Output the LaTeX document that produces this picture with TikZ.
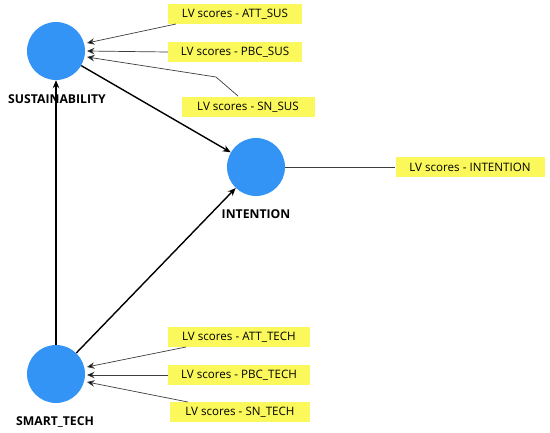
\documentclass[tikz,border=0pt]{standalone}
\usepackage{fontspec}
\setmainfont{Open Sans}
\usetikzlibrary{arrows.meta}
\definecolor{lvblue}{RGB}{52,148,246}
\definecolor{lvyellow}{RGB}{250,248,90}
\definecolor{lvgrey}{RGB}{60,60,60}
\begin{document}
\begin{tikzpicture}[x=1pt,y=-1pt,
  lv/.style={circle,fill=lvblue,minimum size=58pt,inner sep=0pt},
  ind/.style={fill=lvyellow,minimum height=20pt,inner sep=0pt,font=\fontsize{11.6}{14}\selectfont},
  lab/.style={font=\fontsize{12.2}{14}\selectfont\bfseries},
  path/.style={-{Stealth[length=8pt,width=6.5pt]},line width=1.4pt,black},
  load/.style={-{Stealth[length=7.5pt,width=6.5pt,fill=black]},line width=0.7pt,lvgrey},
  plain/.style={line width=0.9pt,lvgrey}]
\useasboundingbox (0,0) rectangle (550,432);
\node[lv] (sus) at (56,51) {};
\node[lv] (int) at (256,167) {};
\node[lv] (tech) at (56,374) {};
\node[lab] (suslab) at (57,99) {SUSTAINABILITY};
\node[lab] (intlab) at (256,214) {INTENTION};
\node[lab] (techlab) at (55,422) {SMART\_TECH};
\node[ind,minimum width=134pt] (a1) at (235,14) {LV scores - ATT\_SUS};
\node[ind,minimum width=134pt] (a2) at (235,52) {LV scores - PBC\_SUS};
\node[ind,minimum width=133pt] (a3) at (248,107) {LV scores - SN\_SUS};
\node[ind,minimum width=149pt] (ai) at (470,167) {LV scores - INTENTION};
\node[ind,minimum width=142pt] (t1) at (239,337) {LV scores - ATT\_TECH};
\node[ind,minimum width=142pt] (t2) at (239,375) {LV scores - PBC\_TECH};
\node[ind,minimum width=140pt] (t3) at (240,412) {LV scores - SN\_TECH};
\coordinate (a1s) at (176,24);
\coordinate (a3s) at (238,96);
\coordinate (a3k) at (216,77);
\coordinate (t1s) at (186,347);
\coordinate (t3s) at (188,402);
\coordinate (s1) at (87,43);
\coordinate (s2) at (87,51);
\coordinate (s3) at (87,57);
\coordinate (e1) at (87,367);
\coordinate (e2) at (87,375);
\coordinate (e3) at (87,382);
\draw[load] (a1s) -- (s1);
\draw[load] (a2.west) -- (s2);
\draw[load] (a3s) -- (a3k) -- (s3);
\draw[load] (t1s) -- (e1);
\draw[load] (t2.west) -- (e2);
\draw[load] (t3s) -- (e3);
\draw[plain] (int) -- (ai);
\draw[path] (tech) -- (sus);
\draw[path] (sus) -- (int);
\draw[path] (tech) -- (int);
\end{tikzpicture}
\end{document}
